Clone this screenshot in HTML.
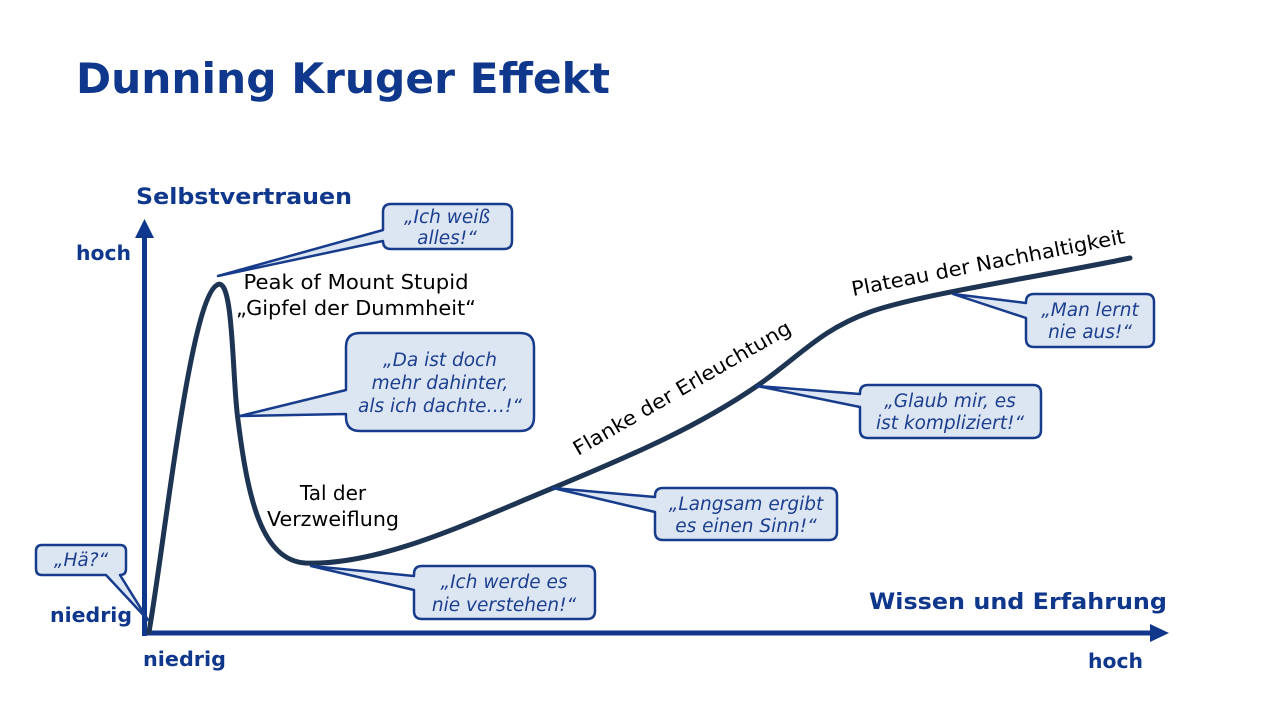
<!DOCTYPE html>
<html><head><meta charset="utf-8"><style>
html,body{margin:0;padding:0;background:#fff;}
svg{display:block;}
.t{font-family:"DejaVu Sans","Liberation Sans",sans-serif;}
.b{font-weight:bold;fill:#0f378c;}
.lab{font-size:20px;fill:#000;}
.q{font-size:18.5px;font-style:italic;fill:#1d3f8f;}
.c{fill:#dce5f2;stroke:#173c8c;stroke-width:2.5;stroke-linejoin:round;}
</style></head><body>
<svg width="1280" height="720" viewBox="0 0 1280 720" xmlns="http://www.w3.org/2000/svg">
<text class="t b" x="76" y="93" font-size="42" textLength="534" lengthAdjust="spacingAndGlyphs">Dunning Kruger Effekt</text>

<line x1="144.5" y1="236" x2="144.5" y2="636" stroke="#0f378c" stroke-width="5"/>
<polygon points="144.5,219 135,238 154,238" fill="#0f378c"/>
<line x1="142" y1="633" x2="1152" y2="633" stroke="#0f378c" stroke-width="5"/>
<polygon points="1169,633 1150,624 1150,642" fill="#0f378c"/>

<text class="t b" x="136" y="204" font-size="22" textLength="216" lengthAdjust="spacingAndGlyphs">Selbstvertrauen</text>
<text class="t b" x="76" y="260" font-size="20" textLength="55" lengthAdjust="spacingAndGlyphs">hoch</text>
<text class="t b" x="50" y="622" font-size="20" textLength="82" lengthAdjust="spacingAndGlyphs">niedrig</text>
<text class="t b" x="143" y="666" font-size="20" textLength="83" lengthAdjust="spacingAndGlyphs">niedrig</text>
<text class="t b" x="869" y="609" font-size="22" textLength="298" lengthAdjust="spacingAndGlyphs">Wissen und Erfahrung</text>
<text class="t b" x="1088" y="668" font-size="20" textLength="55" lengthAdjust="spacingAndGlyphs">hoch</text>

<path d="M149,632 C165,540 190,300 217,285 C234,274 232,380 238,420 C248,500 262,560 305,563 C380,566 470,522 553,488 C640,452 700,425 757,386 C800,356 820,330 870,312 C920,294 1050,275 1130,258" fill="none" stroke="#1e3453" stroke-width="5" stroke-linecap="round"/>

<path class="c" d="M391,204 H504 Q512,204 512,212 V241 Q512,249 504,249 H391 Q383,249 383,241 V241 L218,276 L383,230 V212 Q383,204 391,204 Z"/>
<text class="t q" x="447" y="223" text-anchor="middle">„Ich weiß</text>
<text class="t q" x="447" y="244" text-anchor="middle">alles!“</text>

<path class="c" d="M360,333 H520 Q534,333 534,347 V417 Q534,431 520,431 H360 Q346,431 346,417 V414 L240,416 L346,390 V347 Q346,333 360,333 Z"/>
<text class="t q" x="440" y="366" text-anchor="middle">„Da ist doch</text>
<text class="t q" x="440" y="389" text-anchor="middle">mehr dahinter,</text>
<text class="t q" x="440" y="412" text-anchor="middle">als ich dachte…!“</text>

<path class="c" d="M42,545 H120 Q126,545 126,551 V569 Q126,575 120,575 L148,620 L106,575 H42 Q36,575 36,569 V551 Q36,545 42,545 Z"/>
<text class="t q" x="81" y="566" text-anchor="middle">„Hä?“</text>

<path class="c" d="M422,566 H587 Q595,566 595,574 V611 Q595,619 587,619 H422 Q414,619 414,611 V590 L311,566 L414,576 V574 Q414,566 422,566 Z"/>
<text class="t q" x="504" y="588" text-anchor="middle">„Ich werde es</text>
<text class="t q" x="504" y="611" text-anchor="middle">nie verstehen!“</text>

<path class="c" d="M663,488 H829 Q837,488 837,496 V532 Q837,540 829,540 H663 Q655,540 655,532 V512 L553,488 L655,497 V496 Q655,488 663,488 Z"/>
<text class="t q" x="746" y="510" text-anchor="middle">„Langsam ergibt</text>
<text class="t q" x="746" y="532" text-anchor="middle">es einen Sinn!“</text>

<path class="c" d="M868,385 H1033 Q1041,385 1041,393 V430 Q1041,438 1033,438 H868 Q860,438 860,430 V407 L757,386 L860,394 V393 Q860,385 868,385 Z"/>
<text class="t q" x="950" y="407" text-anchor="middle">„Glaub mir, es</text>
<text class="t q" x="950" y="429" text-anchor="middle">ist kompliziert!“</text>

<path class="c" d="M1034,294 H1146 Q1154,294 1154,302 V339 Q1154,347 1146,347 H1034 Q1026,347 1026,339 V318 L953,294 L1026,303 V302 Q1026,294 1034,294 Z"/>
<text class="t q" x="1090" y="316" text-anchor="middle">„Man lernt</text>
<text class="t q" x="1090" y="338" text-anchor="middle">nie aus!“</text>

<text class="t lab" x="356" y="289" text-anchor="middle" textLength="225" lengthAdjust="spacingAndGlyphs">Peak of Mount Stupid</text>
<text class="t lab" x="356" y="315" text-anchor="middle" textLength="240" lengthAdjust="spacingAndGlyphs">„Gipfel der Dummheit“</text>
<text class="t lab" x="333" y="500" text-anchor="middle">Tal der</text>
<text class="t lab" x="333" y="526" text-anchor="middle" textLength="132" lengthAdjust="spacingAndGlyphs">Verzweiflung</text>
<text class="t lab" transform="translate(578,456) rotate(-30)" textLength="248" lengthAdjust="spacingAndGlyphs">Flanke der Erleuchtung</text>
<text class="t lab" transform="translate(853,296) rotate(-11)" textLength="278" lengthAdjust="spacingAndGlyphs">Plateau der Nachhaltigkeit</text>
</svg>
</body></html>
